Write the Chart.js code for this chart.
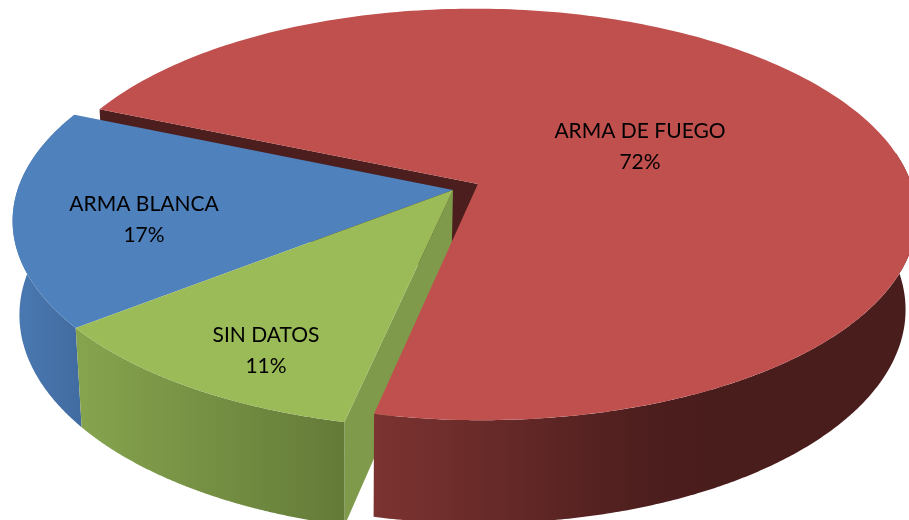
<!DOCTYPE html>
<html>
<head>
<meta charset="utf-8">
<style>
html, body { margin: 0; background: #fff; overflow: hidden; }
canvas { display: block; }
</style>
<script src="https://cdn.jsdelivr.net/npm/chart.js@4"></script>
</head>
<body>
<canvas id="miGrafico" width="909" height="520"></canvas>
<script>
const categories = ['ARMA DE FUEGO', 'SIN DATOS', 'ARMA BLANCA'];
const values = [72, 11, 17];

const topColors = ['#c0504d', '#9bbb59', '#4f81bd'];
// horizontal shading of the rim, [x, colour]
const rimStops = [
    [[373, '#7c3331'], [650, '#4c1e1d'], [720, '#4a1d1d']],
    [[78, '#86a44e'], [342, '#647b38']],
    [[12, '#4a79b2'], [86, '#416b9f']]
];
const cutColors = ['#4c1e1d', '#7f9a4b', '#416b9f'];
const labelPos = [[640, 131], [266, 335], [144, 204]];

// view of the tilted disc
const cam = { x: 453, y: 190, a: 435.4, b: -8.4, c: 3.9, d: 203, g: -0.0028, h: -0.1485, ex: -2, ey: 95, ez: 0.02 };
const R = Math.PI / 180;

function project(u, v, z) {
    const w = 1 + cam.g * u + cam.h * v + cam.ez * z;
    return [cam.x + (cam.a * u + cam.b * v + cam.ex * z) / w, cam.y + (cam.c * u + cam.d * v + cam.ey * z) / w];
}

// disc coordinates of an arc element, with its offset
function sliceShift(el) {
    const r = el.outerRadius;
    const off = (el.options.offset || 0) / 4 / r;
    const mid = (el.startAngle + el.endAngle) / 2;
    return [off * Math.cos(mid), off * Math.sin(mid)];
}

function rim(el, from, to, z, reverse) {
    const s = sliceShift(el);
    const pts = [];
    const n = 240;
    for (let i = 0; i <= n; i++) {
        const a = from + (to - from) * (reverse ? n - i : i) / n;
        pts.push(project(Math.cos(a) + s[0], Math.sin(a) + s[1], z));
    }
    return pts;
}

function fillPoly(ctx, pts, style) {
    ctx.beginPath();
    pts.forEach((p, i) => i ? ctx.lineTo(p[0], p[1]) : ctx.moveTo(p[0], p[1]));
    ctx.closePath();
    ctx.fillStyle = style;
    ctx.fill();
}

function drawTop(ctx, el, i) {
    const s = sliceShift(el);
    fillPoly(ctx, [project(s[0], s[1], 0)].concat(rim(el, el.startAngle, el.endAngle, 0)), topColors[i]);
}

function drawRim(ctx, el, i, from, to) {
    const g = ctx.createLinearGradient(rimStops[i][0][0], 0, rimStops[i][rimStops[i].length - 1][0], 0);
    const x0 = rimStops[i][0][0];
    const span = rimStops[i][rimStops[i].length - 1][0] - x0;
    rimStops[i].forEach(st => g.addColorStop((st[0] - x0) / span, st[1]));
    fillPoly(ctx, rim(el, from, to, 0).concat(rim(el, from, to, 1, true)), g);
}

function drawCut(ctx, el, i, angle) {
    const s = sliceShift(el);
    const u = Math.cos(angle) + s[0], v = Math.sin(angle) + s[1];
    fillPoly(ctx, [project(s[0], s[1], 0), project(u, v, 0), project(u, v, 1), project(s[0], s[1], 1)], cutColors[i]);
}

const pie3d = {
    id: 'pie3d',
    beforeDatasetDraw(chart, args) {
        const ctx = chart.ctx;
        const [fuego, sinDatos, blanca] = chart.getDatasetMeta(args.index).data;
        ctx.save();
        drawCut(ctx, fuego, 0, fuego.startAngle);
        drawRim(ctx, blanca, 2, blanca.startAngle, blanca.endAngle);
        drawTop(ctx, blanca, 2);
        drawCut(ctx, sinDatos, 1, sinDatos.startAngle);
        drawRim(ctx, sinDatos, 1, sinDatos.startAngle, sinDatos.endAngle);
        drawTop(ctx, sinDatos, 1);
        // only the front of the big slice shows its rim
        drawRim(ctx, fuego, 0, Math.max(fuego.startAngle, 350 * R), fuego.endAngle);
        drawTop(ctx, fuego, 0);
        ctx.restore();
        return false;
    },
    afterDraw(chart) {
        const ctx = chart.ctx;
        ctx.save();
        ctx.fillStyle = '#000';
        ctx.textAlign = 'center';
        ctx.textBaseline = 'middle';
        ctx.font = '21px Lato';
        categories.forEach((name, i) => {
            ctx.fillText(name, labelPos[i][0], labelPos[i][1]);
            ctx.fillText(values[i] + '%', labelPos[i][0], labelPos[i][1] + 31);
        });
        ctx.restore();
    }
};

const grafico = new Chart(document.getElementById('miGrafico'), {
    type: 'pie',
    data: {
        labels: categories,
        datasets: [{ data: values, backgroundColor: topColors, borderWidth: 0, offset: [62, 0, 0] }]
    },
    options: {
        responsive: false,
        animation: false,
        rotation: 292,
        radius: 240,
        plugins: { legend: { display: false }, tooltip: { enabled: false } }
    },
    plugins: [pie3d]
});
</script>
</body>
</html>
